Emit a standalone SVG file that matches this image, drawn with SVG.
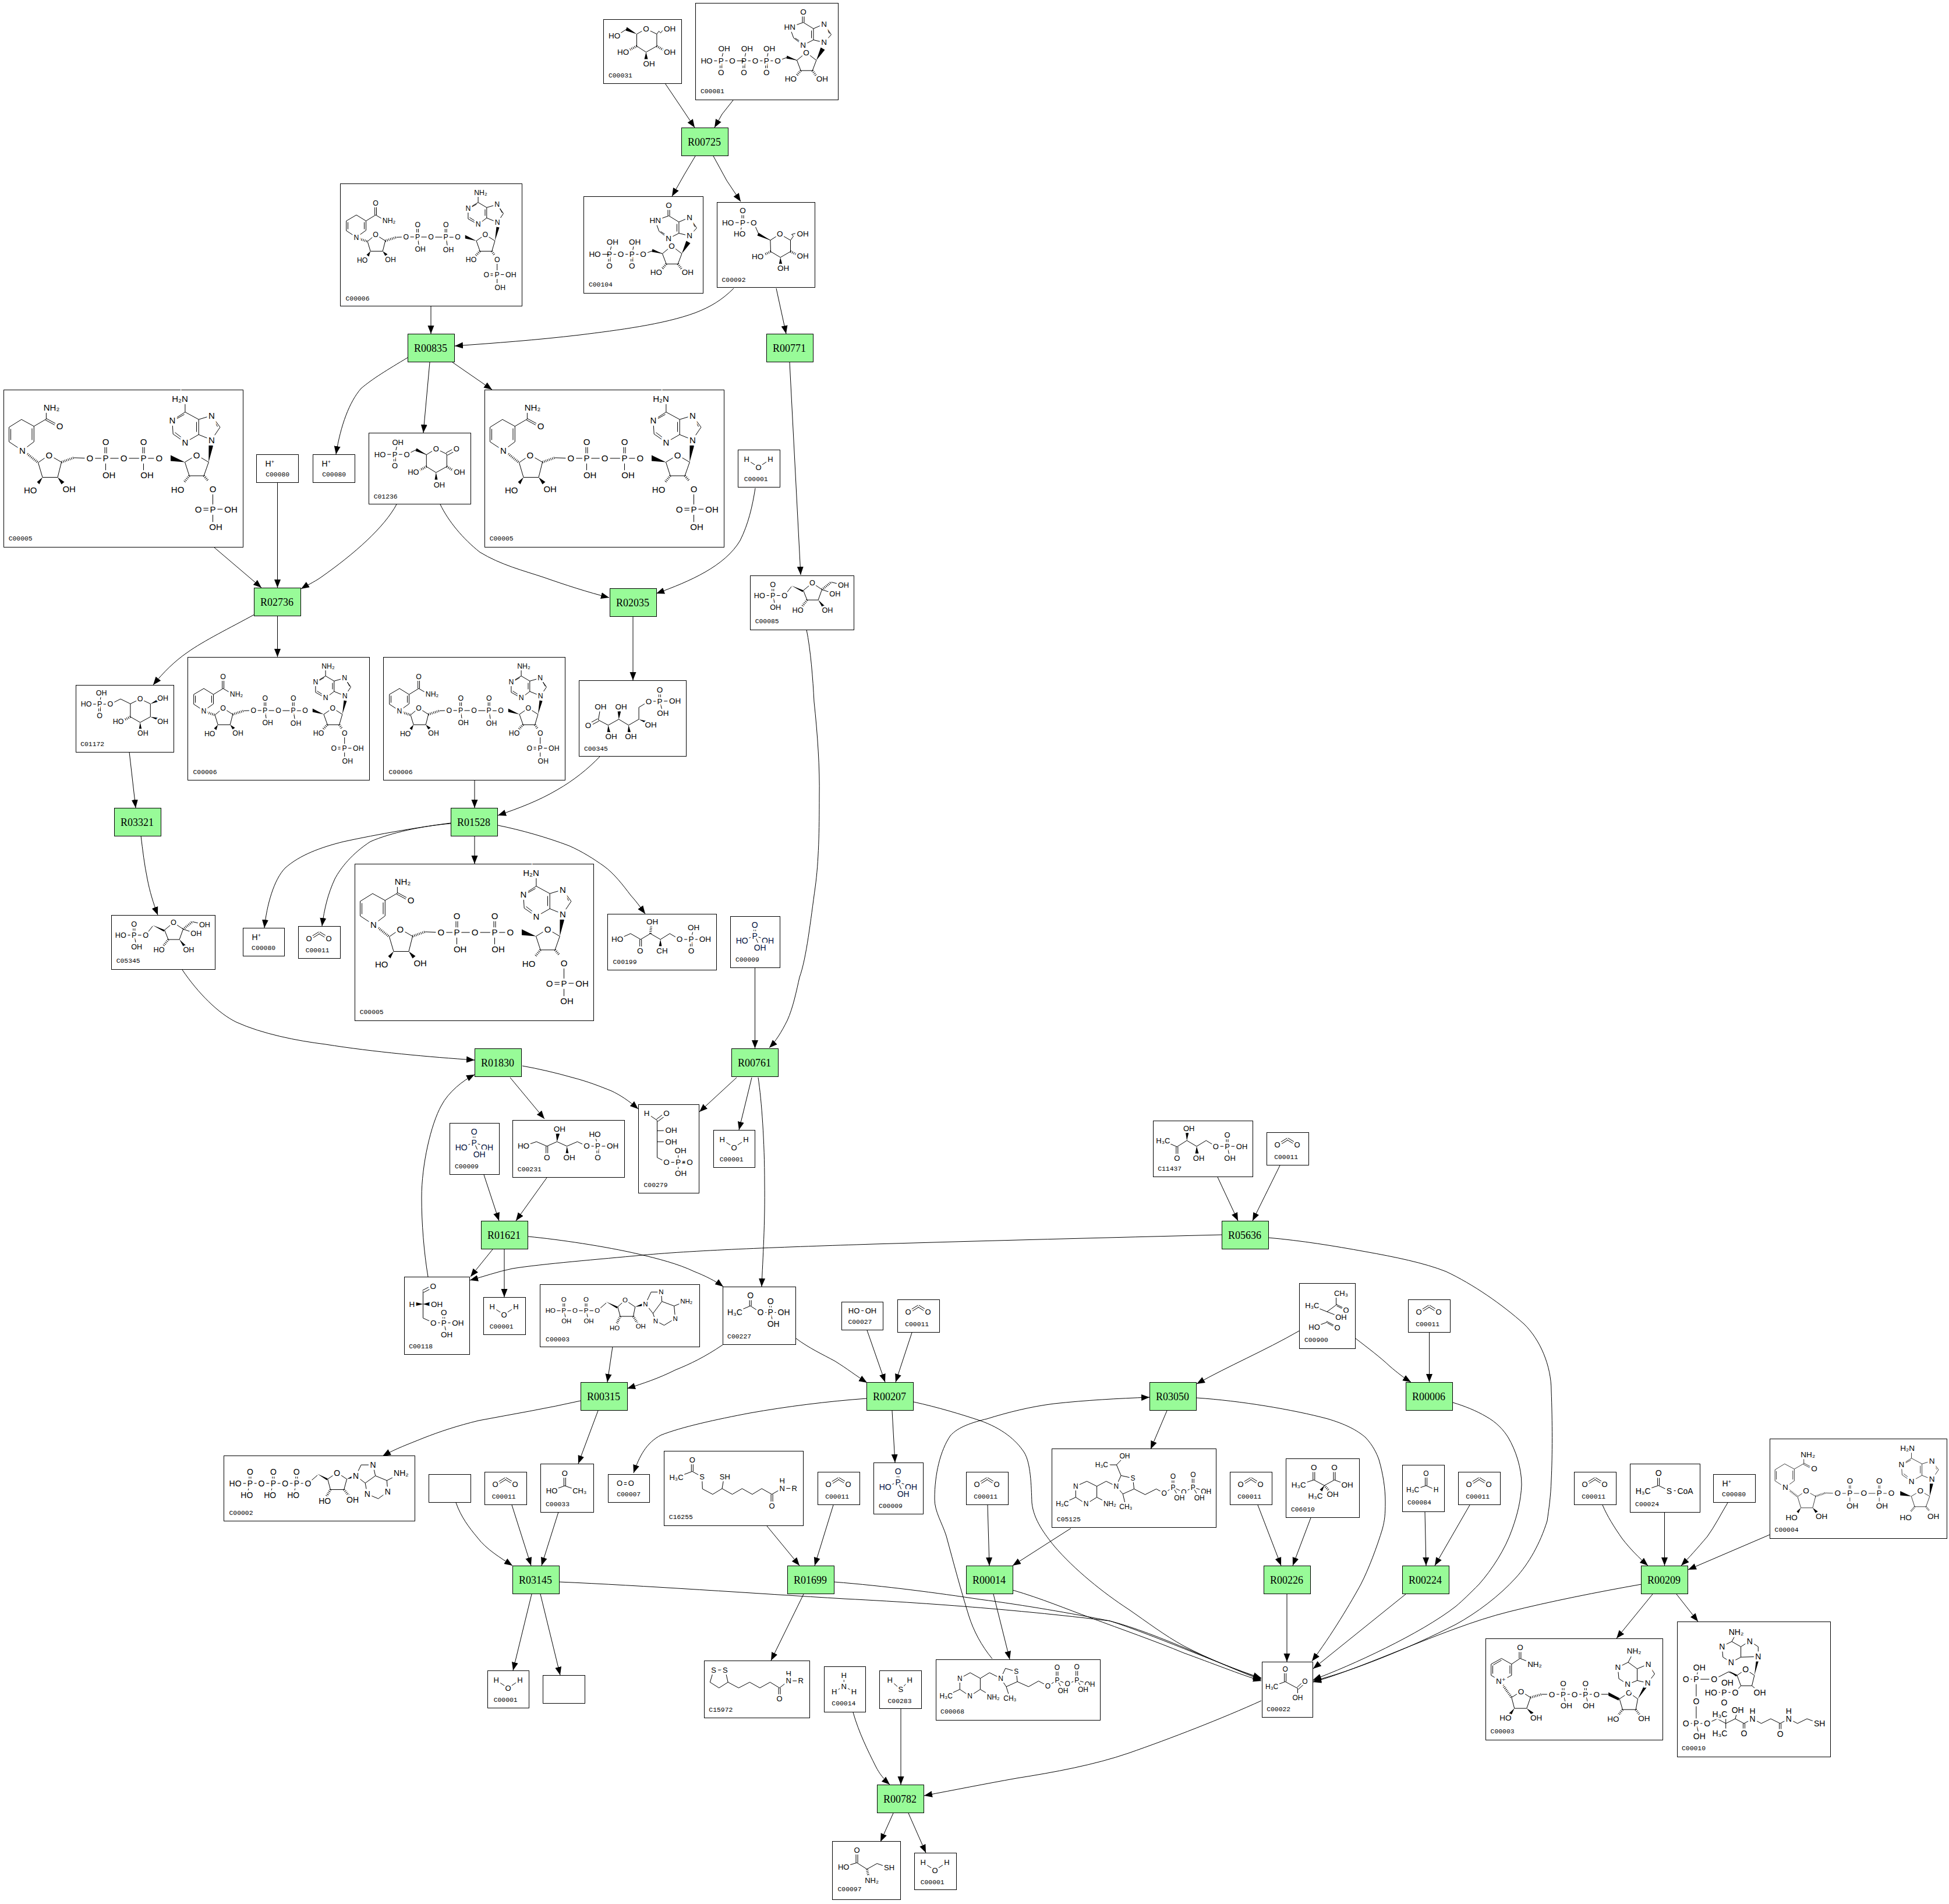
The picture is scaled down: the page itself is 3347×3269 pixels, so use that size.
<svg xmlns="http://www.w3.org/2000/svg" xmlns:xlink="http://www.w3.org/1999/xlink" width="3347" height="3269" viewBox="0 0 3347 3269">
<style>
text{font-family:"Liberation Sans","DejaVu Sans",Arial,sans-serif;fill:#000}
.c{fill:#fff;stroke:#000;stroke-width:1}
.x{fill:#98fb98;stroke:#000;stroke-width:1}
.r{font-family:"Liberation Serif","Times New Roman",serif;font-size:18px;text-anchor:middle}
.l{font-family:"Liberation Mono","Courier New",monospace;font-size:11.4px}
.a{text-anchor:middle;dominant-baseline:central;paint-order:stroke;stroke:#fff;stroke-width:.5em}
.b{fill:none;stroke:#000;stroke-width:1}
.w{fill:#000;stroke:none}
.h{fill:none;stroke:#000;stroke-width:4;stroke-dasharray:1 2}
.e{fill:none;stroke:#000;stroke-width:1;marker-end:url(#ar)}
.pi text{fill:#001040}
</style>
<defs>
<marker id="ar" markerUnits="userSpaceOnUse" markerWidth="16" markerHeight="13" refX="14" refY="6" orient="auto"><path d="M0 0.5L14 6L0 11.5z"/></marker>

<g id="m-co2" font-size="13"><path class="b" d="M18,20 L35,9.5 M19.5,23 L36.5,12.5 M35,12.5 L52,23 M36.5,9.5 L53.5,20"/><text class="a" x="18" y="21.4">O</text><text class="a" x="52" y="21.4">O</text></g>
<g id="m-h2o" font-size="13"><path class="b" d="M14.6,16.4 L35,29.6 L55.5,16"/><text class="a" x="14.6" y="16.4">H</text><text class="a" x="35" y="29.6">O</text><text class="a" x="55.5" y="16">H</text></g>
<g id="m-hp"><text x="15" y="20.4" font-size="14">H<tspan dy="-5" font-size="9">+</tspan></text></g>
<g id="m-pi" class="pi" font-size="14"><path class="b" d="M40.2,14 L40.2,33 M43.2,14 L43.2,33 M41.7,33 L20,41.7 M41.7,33 L64,41 M41.7,33 L50.7,53"/><text class="a" x="41.7" y="14.4">O</text><text class="a" x="41.7" y="33.4">P</text><text class="a" x="19.7" y="41.7">HO</text><text class="a" x="64" y="41">OH</text><text class="a" x="50.7" y="53.4">OH</text></g>

<g id="m-ino" font-size="13.5">
<path class="b" d="M185,14.7 M183.5,14 L183.5,33 M186.5,14 L186.5,33 M185,33 L161.7,41.4 L168.4,59.7 L184.7,72 L202.4,63 L202.4,43.7 L185,33 M199,60 L199,47 M171,60 L182,67 M202.4,43.7 L220.7,35.7 L233,54 L220.7,67.4 L202.4,63 M223,40 L230,52 M190,84.7 L207.4,98 L200.7,115.7 L180.7,115.7 L174,98 Z M174,98 L157.4,93 L141,99 L83,99"/>
<path class="w" d="M207.4,98 L215,76 L222,80 Z M174,98 L157,90 L156,95 Z"/>
<path class="h" d="M180.7,115.7 L172,126 M200.7,115.7 L208,126"/>
<path class="b" d="M120.2,99 L120.2,118 M123.2,99 L123.2,118 M81.5,99 L81.5,118 M84.5,99 L84.5,118 M121.7,99 L126,78 M83,99 L88,78"/>
<text class="a" x="185" y="14.7">O</text><text class="a" x="161.7" y="41.4">HN</text><text class="a" x="184.7" y="72">N</text><text class="a" x="220.7" y="35.7">N</text><text class="a" x="220.7" y="67.4">N</text><text class="a" x="190" y="84.7">O</text><text class="a" x="141" y="99">O</text><text class="a" x="121.7" y="99">P</text><text class="a" x="102.4" y="99">O</text><text class="a" x="83" y="99">P</text><text class="a" x="126.7" y="77.7">OH</text><text class="a" x="88.4" y="77.7">OH</text><text class="a" x="121.7" y="118.7">O</text><text class="a" x="83" y="118.7">O</text><text class="a" x="163.4" y="130.4">HO</text><text class="a" x="217.4" y="130.4">OH</text></g>

<g id="m-g6p" font-size="13.5">
<path class="b" d="M107.7,54.4 L126,65 L126,84.4 L108.7,94.4 L92,84.4 L91.4,65 Z M91.4,65 L71.4,54.4 L62.7,34.7 L18.7,34.7 M42.5,14.4 L42.5,34.7 M45.5,14.4 L45.5,34.7 M44,34.7 L38.7,54.4 M126,65 L131,58 L128,55 L135,53"/>
<path class="w" d="M91.4,65 L71,52 L69,57 Z M108.7,94.4 L106,107 L112,107 Z"/><path class="h" d="M92,84.4 L76,92 M126,84.4 L140,91"/>
<text class="a" x="107.7" y="54.4">O</text><text class="a" x="62.7" y="34.7">O</text><text class="a" x="44" y="34.7">P</text><text class="a" x="18.7" y="34.7">HO</text><text class="a" x="44" y="14.4">O</text><text class="a" x="38.7" y="54.4">HO</text><text class="a" x="147" y="53.7">OH</text><text class="a" x="147" y="91.7">OH</text><text class="a" x="69.7" y="92.7">HO</text><text class="a" x="113.7" y="112.7">OH</text></g>

<g id="m-f6p" font-size="12.7">
<path class="b" d="M15.8,34 L58.6,34 L70.7,18.6 M37.3,15 L37.3,34 M40.3,15 L40.3,34 M38.8,34 L43.2,54 M106.4,12.5 L91,25.3 L97.5,41.6 L116.6,41.6 L123,23.7 Z M123,23.7 L145.3,31.4"/>
<path class="w" d="M70.7,17 L91,25 L90,28 Z M116.6,41.6 L124,55 L128,52 Z"/><path class="h" d="M123,23.7 L139,11 M97.5,41.6 L88,54"/><path class="b" d="M139,11 L160,16"/>
<text class="a" x="15.8" y="34">HO</text><text class="a" x="38.8" y="34">P</text><text class="a" x="38.8" y="15">O</text><text class="a" x="43.2" y="54">OH</text><text class="a" x="58.6" y="34">O</text><text class="a" x="106.4" y="12.5">O</text><text class="a" x="160" y="16">OH</text><text class="a" x="145.3" y="31.4">OH</text><text class="a" x="81.5" y="59.4">HO</text><text class="a" x="132.5" y="59.4">OH</text></g>

<g id="m-nadh">
<path class="b" d="M30.4,50.7 L51.8,62.4 L51.8,89 L31.8,104 L9,89 L9,64 Z M12,67 L12,86 M48.5,66 L48.5,86 M51.8,62.4 L72.9,50 L72.9,36 M72.9,49 L95,61 M71.5,51.5 L93.6,63.5 M77.9,111.7 L59,124.7 L66.5,150 L92.5,150 L99,124 Z M120.4,116.4 L147.9,117.4 L266.8,117.4 M173.5,117 L173.5,89 M176.5,117 L176.5,89 M238.5,117 L238.5,89 M241.5,117 L241.5,89 M175,117 L175,146 M240,117 L240,146 M331,111.7 L311,124 L318.6,147.4 L343.6,147.4 L351.8,124 Z M356.8,85.7 L334.7,76.7 L334.7,50.7 L356.8,44 L371.4,64 Z M334.7,76.7 L311.4,90 L290.7,75.7 L289.3,52.4 L311.4,38 L334.7,50.7 M331,72 L331,55 M294,73 L307,83 M296,50 L310,42 M360,50 L367,63 M311.4,38 L311.4,20"/>
<path class="w" d="M66.5,150 L57,158 L61,162 Z M92.5,150 L99,162 L104,158 Z M286.5,112 L286.5,122 L311,124 Z M352,94 L360,94 L351.8,124 Z"/>
<path class="h" d="M38,108 L59,124.7 M99,124 L120.4,116.4 M318.6,147.4 L310,158"/>
<text class="a" x="31.8" y="104">N</text><text class="a" x="96" y="61.7">O</text><text class="a" x="82" y="30">NH₂</text><text class="a" x="77.9" y="111.7">O</text><text class="a" x="45.7" y="172.4">HO</text><text class="a" x="112.2" y="170">OH</text><text class="a" x="147.9" y="117.4">O</text><text class="a" x="175" y="117.4">P</text><text class="a" x="206" y="117.4">O</text><text class="a" x="240" y="117.4">P</text><text class="a" x="266.8" y="117.4">O</text><text class="a" x="175" y="89.4">O</text><text class="a" x="240" y="89.4">O</text><text class="a" x="180.7" y="145.7">OH</text><text class="a" x="246" y="146">OH</text><text class="a" x="331" y="111.7">O</text><text class="a" x="356.8" y="85.7">N</text><text class="a" x="356.8" y="44">N</text><text class="a" x="289.3" y="52.4">N</text><text class="a" x="311.4" y="90">N</text><text class="a" x="302.5" y="15">H₂N</text><text class="a" x="298.6" y="171.4">HO</text></g>
<g id="m-nadph" font-size="15"><use href="#m-nadh" xlink:href="#m-nadh"/><path class="h" d="M343.6,147.4 L351,156"/><path class="b" d="M359,170 L359,234 M340,203 L352,203 M340,206.5 L352,206.5 M359,204.7 L390,204.7"/><text class="a" x="359" y="170">O</text><text class="a" x="334" y="204.7">O</text><text class="a" x="359" y="204.7">P</text><text class="a" x="390" y="204.7">OH</text><text class="a" x="364" y="234.7">OH</text></g>

<g id="m-nadp" font-size="12.3">
<path class="b" d="M10.2,63.8 L27.5,53.6 L44,63.8 L44,80 L27.5,91.8 L10.2,80.6 Z M13,66 L13,78 M41,66 L41,78 M44,63.8 L60.6,53.6 L75.3,62.3 M59.2,33.7 L59.2,53.6 M62,33.7 L62,53.6 M60.6,87.3 L46.6,99 L51.7,115.8 L72.7,115.8 L77.2,98 Z M96.3,91.8 L112.9,91.3 L201.6,91.8 M131.3,91.3 L131.3,70.4 M134.1,91.3 L134.1,70.4 M179.8,91.3 L179.8,70.4 M182.6,91.3 L182.6,70.4 M132.7,91.3 L135,108 M181.2,91.3 L184,108 M248.8,87.3 L233.5,98 L239.8,115.8 L260.2,115.8 L265.4,98 Z M269.8,66.3 L251.3,58.7 L251.3,40.8 L269.2,35.7 L280,51 Z M251.3,58.7 L236.6,69.9 L219.4,60.2 L219.4,42.4 L236.6,32.1 L251.3,40.8 M248.5,55 L248.5,44 M222,58 L233,65 M222,42 L234,35 M272,39 L278,50 M236.6,32.1 L236.6,20"/>
<path class="w" d="M51.7,115.8 L45,122 L49,125 Z M72.7,115.8 L77,124 L81,121 Z M214.3,88 L214.3,94 L233.5,98 Z M265.4,98 L268,74 L273,75 Z"/>
<path class="h" d="M27.5,93 L46.6,99 M77.2,98 L96.3,91.8 M239.8,115.8 L232,124"/>
<text class="a" x="27.5" y="92.9">N</text><text class="a" x="60.6" y="33.7">O</text><text class="a" x="83.6" y="63.8">NH₂</text><text class="a" x="60.6" y="87.3">O</text><text class="a" x="37.7" y="131">HO</text><text class="a" x="86.1" y="130">OH</text><text class="a" x="112.9" y="91.3">O</text><text class="a" x="132.7" y="91.3">P</text><text class="a" x="155.6" y="91.3">O</text><text class="a" x="181.2" y="91.3">P</text><text class="a" x="201.6" y="91.8">O</text><text class="a" x="132.7" y="70.4">O</text><text class="a" x="181.2" y="70.4">O</text><text class="a" x="137.2" y="112.3">OH</text><text class="a" x="185.6" y="113.3">OH</text><text class="a" x="248.8" y="87.3">O</text><text class="a" x="269.8" y="66.3">N</text><text class="a" x="269.2" y="35.7">N</text><text class="a" x="219.4" y="42.4">N</text><text class="a" x="236.6" y="69.9">N</text><text class="a" x="241" y="15.3">NH₂</text><text class="a" x="224.5" y="130">HO</text>
<path class="h" d="M260.2,115.8 L265,123"/><path class="b" d="M269.2,130 L269.2,178 M269.2,156 L292.8,156 M250.7,154.5 L262,154.5 M250.7,157.5 L262,157.5"/><text class="a" x="269.2" y="130">O</text><text class="a" x="269.2" y="156">P</text><text class="a" x="250.7" y="156">O</text><text class="a" x="292.8" y="156">OH</text><text class="a" x="274.3" y="178">OH</text></g>
</defs>

<g id="connectors">
<path class="e" d="M1142,143 L1169,183 L1193,219"/>
<path class="e" d="M1259,172 L1240,196 L1227,219"/>
<path class="e" d="M1194,268 L1175,300 L1154,337"/>
<path class="e" d="M1225,268 L1248,310 L1272,346"/>
<path class="e" d="M1260,495 C1240,515 1220,527 1194,537 C1140,557 1060,567 996,575 C920,584 850,589 781,594"/>
<path class="e" d="M1333,495 L1350,573"/>
<path class="e" d="M740,525 L740,573"/>
<path class="e" d="M700,614 C665,635 640,650 620,667 C600,690 585,730 577,780"/>
<path class="e" d="M738,622 L727,743"/>
<path class="e" d="M777,622 L845,669"/>
<path class="e" d="M1356,622 L1375,987"/>
<path class="e" d="M368,940 L449,1009"/>
<path class="e" d="M476.5,828 L476.5,1009"/>
<path class="e" d="M681,866 C660,905 610,950 550,992 C540,999 525,1006 517,1011"/>
<path class="e" d="M756,866 C770,895 795,925 824,948 C860,970 900,980 933,991 C970,1004 1010,1017 1046,1026"/>
<path class="e" d="M1297,838 C1292,870 1285,900 1271,928 C1245,972 1185,998 1127,1019"/>
<path class="e" d="M1087,1058 L1087,1168"/>
<path class="e" d="M437,1055 C395,1078 350,1100 322,1120 C300,1135 280,1155 263,1176"/>
<path class="e" d="M476.5,1058 L476.5,1128"/>
<path class="e" d="M222,1291 L233,1387"/>
<path class="e" d="M815,1339 L815,1387"/>
<path class="e" d="M1030,1299 C1010,1320 985,1340 957,1356 C925,1375 890,1388 855,1400"/>
<path class="e" d="M242,1435 C245,1460 248,1485 253,1509 C257,1530 263,1550 271,1571"/>
<path class="e" d="M774,1413 C720,1420 650,1432 590,1445 C550,1455 515,1468 490,1490 C470,1510 458,1555 454,1593"/>
<path class="e" d="M774,1414 C725,1418 670,1430 636,1445 C605,1465 585,1490 575,1509 C563,1535 557,1560 553,1590"/>
<path class="e" d="M815,1435 L815,1483"/>
<path class="e" d="M855,1417 C895,1425 940,1438 977,1452 C1000,1462 1020,1475 1037,1487 C1055,1500 1070,1520 1083,1537 C1093,1548 1100,1558 1108,1569"/>
<path class="e" d="M313,1665 C340,1705 375,1740 406,1755 C450,1775 510,1787 559,1793 C640,1806 740,1815 815,1820"/>
<path class="e" d="M1296.5,1662 L1296.5,1800"/>
<path class="e" d="M1385,1081 C1392,1115 1396,1165 1398,1205 C1404,1260 1408,1320 1407,1368 C1407,1425 1406,1480 1400,1523 C1392,1580 1385,1645 1373,1678 C1368,1700 1362,1730 1352,1752 C1342,1772 1332,1788 1321,1799"/>
<path class="e" d="M897,1830 C925,1835 955,1842 983,1850 C1010,1857 1030,1865 1050,1873 C1065,1880 1080,1890 1096,1904"/>
<path class="e" d="M876,1850 L935,1921"/>
<path class="e" d="M1265,1850 L1201,1909"/>
<path class="e" d="M1291,1850 L1269,1940"/>
<path class="e" d="M1302,1850 C1308,1890 1313,1960 1313,2031 C1314,2100 1310,2160 1308,2209"/>
<path class="e" d="M831,2017 L857,2096"/>
<path class="e" d="M939,2022 L886,2096"/>
<path class="e" d="M735,2192 C728,2150 724,2100 724,2056 C724,2000 740,1930 758,1898 C770,1875 795,1855 815,1845"/>
<path class="e" d="M846,2145 L808,2192"/>
<path class="e" d="M866,2145 L866,2227"/>
<path class="e" d="M907,2123 C960,2128 1040,2140 1096,2153 C1130,2161 1165,2170 1192,2183 C1210,2190 1230,2200 1242,2209"/>
<path class="e" d="M2098,2120 C1900,2125 1700,2130 1500,2136 C1350,2141 1200,2146 1103,2155 C1030,2162 930,2170 880,2178 C855,2183 830,2192 807,2198"/>
<path class="e" d="M2178,2125 C2235,2130 2290,2139 2345,2149 C2395,2158 2445,2168 2483,2183 C2530,2205 2580,2240 2617,2273 C2645,2300 2664,2345 2664,2388 C2666,2440 2666,2500 2664,2541 C2663,2570 2660,2590 2657,2611 C2645,2650 2625,2685 2603,2709 C2575,2740 2535,2770 2500,2789 C2420,2830 2320,2870 2255,2886"/>
<path class="e" d="M2495,2408 C2515,2414 2535,2422 2552,2432 C2570,2442 2582,2455 2590,2468 C2603,2490 2613,2520 2613,2549 C2612,2575 2606,2600 2597,2625 C2585,2660 2562,2695 2540,2720 C2525,2735 2512,2748 2500,2758 C2440,2805 2320,2860 2255,2884"/>
<path class="e" d="M2819,2720 C2745,2733 2660,2750 2592,2767 C2560,2775 2530,2785 2500,2796 C2420,2825 2320,2870 2255,2888"/>
<path class="e" d="M2055,2400 C2130,2405 2220,2420 2280,2436 C2310,2445 2330,2455 2345,2468 C2358,2482 2364,2495 2368,2506 C2375,2530 2379,2555 2379,2579 C2379,2600 2378,2610 2374,2625 C2365,2655 2350,2695 2337,2720 C2322,2748 2285,2810 2253,2852"/>
<path class="e" d="M1569,2407 C1610,2416 1650,2428 1683,2439 C1720,2452 1745,2472 1759,2494 C1770,2512 1771,2550 1772,2580 C1775,2610 1795,2635 1810,2654 C1845,2695 1895,2735 1938,2763 C1970,2785 2000,2808 2033,2826 C2075,2848 2125,2868 2166,2881"/>
<path class="e" d="M960,2716 C1100,2722 1300,2736 1450,2745 C1650,2755 1800,2770 1906,2783 C1990,2805 2100,2860 2166,2884"/>
<path class="e" d="M1432,2716 C1520,2723 1610,2735 1683,2746 C1760,2756 1840,2770 1906,2783 C1975,2805 2090,2855 2166,2882"/>
<path class="e" d="M1739,2730 C1790,2745 1830,2762 1874,2778 C1925,2797 1985,2818 2033,2838 C2080,2855 2130,2875 2166,2886"/>
<path class="e" d="M2166,2920 C2100,2950 2010,2985 1938,3010 C1880,3030 1810,3043 1746,3053 C1690,3063 1640,3073 1587,3083"/>
<path class="e" d="M1704,2848 C1685,2825 1672,2800 1664,2775 C1650,2730 1638,2685 1625,2637 C1618,2615 1605,2595 1605,2574 C1605,2530 1615,2490 1632,2465 C1645,2450 1670,2442 1695,2436 C1730,2425 1770,2415 1810,2410 C1865,2404 1920,2401 1974,2399"/>
<path class="e" d="M997,2405 C940,2418 880,2428 822,2439 C785,2448 755,2458 727,2469 C700,2480 680,2487 657,2500"/>
<path class="e" d="M1489,2401 C1420,2406 1350,2415 1288,2426 C1230,2437 1170,2450 1135,2464 C1110,2477 1098,2500 1088,2529"/>
<path class="e" d="M1241,2309 C1210,2330 1185,2342 1160,2352 C1130,2367 1105,2375 1077,2384"/>
<path class="e" d="M1367,2298 C1390,2315 1412,2325 1434,2337 C1455,2350 1470,2362 1489,2374"/>
<path class="e" d="M1489,2284 L1520,2373"/>
<path class="e" d="M1566,2288 L1538,2373"/>
<path class="e" d="M1052,2312 L1043,2373"/>
<path class="e" d="M1027,2422 L993,2513"/>
<path class="e" d="M1532,2422 L1537,2511"/>
<path class="e" d="M2231,2285 C2170,2320 2110,2345 2055,2376"/>
<path class="e" d="M2328,2298 C2350,2315 2370,2330 2387,2346 C2400,2357 2410,2365 2423,2373"/>
<path class="e" d="M2454.5,2287 L2454.5,2373"/>
<path class="e" d="M2091,2021 L2126,2096"/>
<path class="e" d="M2198,2001 L2151,2096"/>
<path class="e" d="M2004,2422 L1976,2488"/>
<path class="e" d="M1839,2624 L1739,2688"/>
<path class="e" d="M1696,2584 L1699,2688"/>
<path class="e" d="M1706,2737 L1734,2849"/>
<path class="e" d="M1317,2620 L1373,2688"/>
<path class="e" d="M1431,2584 L1399,2688"/>
<path class="e" d="M1380,2737 L1324,2851"/>
<path class="e" d="M783,2580 C792,2605 805,2622 820,2640 C835,2660 860,2675 880,2688"/>
<path class="e" d="M879,2584 L912,2688"/>
<path class="e" d="M959,2596 L930,2688"/>
<path class="e" d="M913,2737 L881,2868"/>
<path class="e" d="M928,2737 L962,2876"/>
<path class="e" d="M1465,2940 C1475,2975 1490,3005 1504,3033 C1510,3045 1518,3055 1528,3064"/>
<path class="e" d="M1547,2934 L1547,3064"/>
<path class="e" d="M1534,3113 L1512,3162"/>
<path class="e" d="M1560,3113 L1590,3181"/>
<path class="e" d="M2160,2584 L2200,2688"/>
<path class="e" d="M2251,2606 L2220,2688"/>
<path class="e" d="M2210,2737 L2210,2853"/>
<path class="e" d="M2447,2596 L2449,2688"/>
<path class="e" d="M2524,2584 L2464,2688"/>
<path class="e" d="M2414,2737 L2255,2865"/>
<path class="e" d="M2752,2584 C2760,2603 2772,2622 2786,2642 C2800,2660 2815,2675 2830,2688"/>
<path class="e" d="M2858.5,2596 L2858.5,2688"/>
<path class="e" d="M2967,2580 C2955,2600 2945,2620 2932,2638 C2915,2658 2900,2675 2887,2688"/>
<path class="e" d="M3039,2635 L2899,2695"/>
<path class="e" d="M2838,2737 L2776,2813"/>
<path class="e" d="M2879,2737 L2916,2784"/>
</g>

<g id="R00725" transform="translate(1170.5,219.5)"><rect class="x" width="80" height="48"/><text class="r" x="39" y="30">R00725</text></g>
<g id="R00835" transform="translate(700.5,573.5)"><rect class="x" width="80" height="48"/><text class="r" x="39" y="30">R00835</text></g>
<g id="R00771" transform="translate(1316.5,573.5)"><rect class="x" width="80" height="48"/><text class="r" x="39" y="30">R00771</text></g>
<g id="R02736" transform="translate(436.5,1009.5)"><rect class="x" width="80" height="48"/><text class="r" x="39" y="30">R02736</text></g>
<g id="R02035" transform="translate(1047.5,1010.5)"><rect class="x" width="80" height="48"/><text class="r" x="39" y="30">R02035</text></g>
<g id="R03321" transform="translate(196.5,1387.5)"><rect class="x" width="80" height="48"/><text class="r" x="39" y="30">R03321</text></g>
<g id="R01528" transform="translate(774.5,1387.5)"><rect class="x" width="80" height="48"/><text class="r" x="39" y="30">R01528</text></g>
<g id="R01830" transform="translate(815.5,1800.5)"><rect class="x" width="80" height="48"/><text class="r" x="39" y="30">R01830</text></g>
<g id="R00761" transform="translate(1256.5,1800.5)"><rect class="x" width="80" height="48"/><text class="r" x="39" y="30">R00761</text></g>
<g id="R01621" transform="translate(826.5,2096.5)"><rect class="x" width="80" height="48"/><text class="r" x="39" y="30">R01621</text></g>
<g id="R05636" transform="translate(2098.5,2096.5)"><rect class="x" width="80" height="48"/><text class="r" x="39" y="30">R05636</text></g>
<g id="R00315" transform="translate(997.5,2373.5)"><rect class="x" width="80" height="48"/><text class="r" x="39" y="30">R00315</text></g>
<g id="R00207" transform="translate(1488.5,2373.5)"><rect class="x" width="80" height="48"/><text class="r" x="39" y="30">R00207</text></g>
<g id="R03050" transform="translate(1974.5,2373.5)"><rect class="x" width="80" height="48"/><text class="r" x="39" y="30">R03050</text></g>
<g id="R00006" transform="translate(2414.5,2373.5)"><rect class="x" width="80" height="48"/><text class="r" x="39" y="30">R00006</text></g>
<g id="R03145" transform="translate(880.5,2688.5)"><rect class="x" width="80" height="48"/><text class="r" x="39" y="30">R03145</text></g>
<g id="R01699" transform="translate(1352.5,2688.5)"><rect class="x" width="80" height="48"/><text class="r" x="39" y="30">R01699</text></g>
<g id="R00014" transform="translate(1659.5,2688.5)"><rect class="x" width="80" height="48"/><text class="r" x="39" y="30">R00014</text></g>
<g id="R00226" transform="translate(2170.5,2688.5)"><rect class="x" width="80" height="48"/><text class="r" x="39" y="30">R00226</text></g>
<g id="R00224" transform="translate(2408.5,2688.5)"><rect class="x" width="80" height="48"/><text class="r" x="39" y="30">R00224</text></g>
<g id="R00209" transform="translate(2818.5,2688.5)"><rect class="x" width="80" height="48"/><text class="r" x="39" y="30">R00209</text></g>
<g id="R00782" transform="translate(1506.5,3064.5)"><rect class="x" width="80" height="48"/><text class="r" x="39" y="30">R00782</text></g>

<g id="C00031" transform="translate(1036.5,33.5)"><rect class="c" width="134" height="110"/><g font-size="13.5"><path class="b" d="M73,16 L91.4,25 L91.4,45.7 L73,56 L57,45.7 L57,25 Z M91.4,25 L95,20 L98,23 L103,17"/><path class="w" d="M57,25 L40,13 L38,19 Z M73,56 L70,68 L76,68 Z"/><path class="h" d="M57,45.7 L43,53 M91.4,45.7 L104,53"/><path class="b" d="M40.4,16 L25,26"/><text class="a" x="73" y="16">O</text><text class="a" x="18.7" y="28.4">HO</text><text class="a" x="113.7" y="16">OH</text><text class="a" x="113.7" y="55.7">OH</text><text class="a" x="33.7" y="55.7">HO</text><text class="a" x="78" y="75.7">OH</text></g><text class="l" x="8.4" y="99.4">C00031</text></g>
<g id="C00081" transform="translate(1194.5,5.5)"><rect class="c" width="245" height="166"/><use href="#m-ino" xlink:href="#m-ino"/><g font-size="13.5"><path class="b" d="M19,99 L83,99 M42.2,99 L42.2,118 M45.2,99 L45.2,118 M43.7,99 L49,78"/><text class="a" x="19" y="99">HO</text><text class="a" x="43.7" y="99">P</text><text class="a" x="63" y="99">O</text><text class="a" x="49" y="77.7">OH</text><text class="a" x="43.7" y="118.7">O</text></g><text class="l" x="8.4" y="154.7">C00081</text></g>
<g id="C00104" transform="translate(1002.5,337.5)"><rect class="c" width="205" height="166"/><use href="#m-ino" xlink:href="#m-ino" x="-39"/><g font-size="13.5"><path class="b" d="M19,99 L43,99"/><text class="a" x="19" y="99">HO</text></g><text class="l" x="8.4" y="154.7">C00104</text></g>
<g id="C00092" transform="translate(1231.5,347.5)"><rect class="c" width="168" height="146"/><use href="#m-g6p" xlink:href="#m-g6p"/><text class="l" x="8" y="136.7">C00092</text></g>
<g id="C00006" transform="translate(584.5,315.5)"><rect class="c" width="312" height="210"/><use href="#m-nadp" xlink:href="#m-nadp"/><text class="l" x="9" y="200">C00006</text></g>
<g id="C01236" transform="translate(633.5,743.5)"><rect class="c" width="175" height="122"/><g font-size="13"><path class="b" d="M115.3,27 L133.8,36.2 L133.8,57.6 L115.3,67.8 L98.8,57.6 L98.8,37.2 Z M132.5,34 L149,25 M135,38 L151.5,29 M98.8,37.2 L81.5,28.5 L65,36.7 L19,36.7 M43,36.7 L43,55.6 M46,36.7 L46,55.6 M44.6,36.7 L49.7,15.8"/><path class="w" d="M98.8,37.2 L82,26 L80,31 Z M115.3,67.8 L113,80 L118,80 Z"/><path class="h" d="M98.8,57.6 L85,65 M133.8,57.6 L146,65"/><text class="a" x="115.3" y="27">O</text><text class="a" x="150.4" y="27">O</text><text class="a" x="65" y="36.7">O</text><text class="a" x="44.6" y="36.7">P</text><text class="a" x="19" y="36.7">HO</text><text class="a" x="49.7" y="15.8">OH</text><text class="a" x="44.6" y="55.6">O</text><text class="a" x="76.4" y="66.8">HO</text><text class="a" x="155.5" y="66.8">OH</text><text class="a" x="121" y="88.8">OH</text></g><text class="l" x="8.2" y="112.7">C01236</text></g>
<g id="C00080" transform="translate(440.5,780.5)"><rect class="c" width="72" height="48"/><use href="#m-hp" xlink:href="#m-hp"/><text class="l" x="15.7" y="37.4">C00080</text></g>
<g id="C00080-b" transform="translate(537.5,780.5)"><rect class="c" width="72" height="48"/><use href="#m-hp" xlink:href="#m-hp"/><text class="l" x="15.7" y="37.4">C00080</text></g>
<g id="C00005" transform="translate(6.5,669.5)"><rect class="c" width="411" height="270"/><use href="#m-nadph" xlink:href="#m-nadph"/><text class="l" x="8.2" y="258">C00005</text></g>
<g id="C00005-b" transform="translate(832.5,669.5)"><rect class="c" width="411" height="270"/><use href="#m-nadph" xlink:href="#m-nadph"/><text class="l" x="8.2" y="258">C00005</text></g>
<g id="C00005-c" transform="translate(609.5,1483.5)"><rect class="c" width="410" height="269"/><use href="#m-nadph" xlink:href="#m-nadph"/><text class="l" x="8.2" y="257">C00005</text></g>
<g id="C00001" transform="translate(1267.5,772.5)"><rect class="c" width="72" height="64"/><use href="#m-h2o" xlink:href="#m-h2o"/><text class="l" x="10.2" y="53">C00001</text></g>
<g id="C00085" transform="translate(1288.5,988.5)"><rect class="c" width="178" height="93"/><use href="#m-f6p" xlink:href="#m-f6p"/><text class="l" x="8.2" y="81.4">C00085</text></g>
<g id="C01172" transform="translate(130.5,1176.5)"><rect class="c" width="168" height="115"/><g font-size="12.5"><path class="b" d="M110.2,23.6 L127.8,31.9 L127.8,54.2 L110.2,63.8 L93.4,54.2 L93.4,31.9 Z M93.4,31.9 L76.5,23.6 L58.9,32.5 L17.6,32.5 M39.2,32.5 L39.2,52.9 M42,32.5 L42,52.9 M40.6,32.5 L43.6,13.4"/><path class="w" d="M127.8,31.9 L140,24 L142,28 Z M127.8,54.2 L140,60 L142,56 Z M110.2,63.8 L108,76 L113,76 Z"/><path class="h" d="M93.4,54.2 L82,60"/><text class="a" x="110.2" y="23.6">O</text><text class="a" x="58.9" y="32.5">O</text><text class="a" x="40.6" y="32.5">P</text><text class="a" x="17.6" y="32.5">HO</text><text class="a" x="43.6" y="13.4">OH</text><text class="a" x="40.6" y="52.9">O</text><text class="a" x="149.2" y="22.9">OH</text><text class="a" x="149.2" y="62.5">OH</text><text class="a" x="72.7" y="62.5">HO</text><text class="a" x="114.8" y="82.3">OH</text></g><text class="l" x="7.7" y="104.6">C01172</text></g>
<g id="C00006-b" transform="translate(322.5,1128.5)"><rect class="c" width="312" height="211"/><use href="#m-nadp" xlink:href="#m-nadp"/><text class="l" x="9" y="200">C00006</text></g>
<g id="C00006-c" transform="translate(658.5,1128.5)"><rect class="c" width="312" height="211"/><use href="#m-nadp" xlink:href="#m-nadp"/><text class="l" x="9" y="200">C00006</text></g>
<g id="C00345" transform="translate(994.5,1168.5)"><rect class="c" width="184" height="130"/><g font-size="13.5"><path class="b" d="M33,67.6 L50,76.6 L68.2,66.4 L85,76.6 L102.6,66.4 L102.6,46 L119.4,35.7 L164.6,35 M137,16 L137,35.7 M140,16 L140,35.7 M138.5,35.7 L143.9,55.5 M32,65.5 L14,75.5 M34,69.5 L16,79 M33,67.6 L36.8,45.3"/><path class="w" d="M50,76.6 L48,90 L54,90 Z M68.2,66.4 L66,52 L72,52 Z M85,76.6 L83,90 L89,90 Z M102.6,66.4 L116,74 L118,70 Z"/><text class="a" x="138.5" y="35.7">P</text><text class="a" x="138.5" y="16">O</text><text class="a" x="164.6" y="35">OH</text><text class="a" x="143.9" y="55.5">OH</text><text class="a" x="119.4" y="35.7">O</text><text class="a" x="15.4" y="76.6">O</text><text class="a" x="36.8" y="45.3">OH</text><text class="a" x="72" y="45.3">OH</text><text class="a" x="55.1" y="96.3">OH</text><text class="a" x="88.8" y="96.3">OH</text><text class="a" x="123.2" y="75.9">OH</text></g><text class="l" x="8.4" y="120.6">C00345</text></g>
<g id="C05345" transform="translate(191.5,1571.5)"><rect class="c" width="178" height="93"/><use href="#m-f6p" xlink:href="#m-f6p"/><text class="l" x="8.2" y="81.4">C05345</text></g>
<g id="C00080-c" transform="translate(417.5,1593.5)"><rect class="c" width="71" height="48"/><use href="#m-hp" xlink:href="#m-hp"/><text class="l" x="14.6" y="37.4">C00080</text></g>
<g id="C00011" transform="translate(512.5,1590.5)"><rect class="c" width="72" height="55"/><use href="#m-co2" xlink:href="#m-co2"/><text class="l" x="12.2" y="44.8">C00011</text></g>
<g id="C00199" transform="translate(1043.5,1569.5)"><rect class="c" width="187" height="96"/><g font-size="13.5"><path class="b" d="M16.7,43.4 L39.4,33.4 L56.7,43.4 L73.4,33.4 L90.7,43.4 L106.7,33.4 L123.4,43.4 L167.4,43.4 M55.2,43.4 L55.2,63 M58.2,43.4 L58.2,63 M141.9,43.4 L141.9,63 M144.9,43.4 L144.9,63 M143.4,43.4 L147.7,23"/><path class="w" d="M90.7,43.4 L88,55 L93,55 Z"/><path class="h" d="M73.4,33.4 L75,18"/><text class="a" x="16.7" y="43.4">HO</text><text class="a" x="55.7" y="63">O</text><text class="a" x="76.7" y="13.4">OH</text><text class="a" x="93.4" y="63">CH</text><text class="a" x="123.4" y="43.4">O</text><text class="a" x="143.4" y="43.4">P</text><text class="a" x="147.7" y="23">OH</text><text class="a" x="167.4" y="43.4">OH</text><text class="a" x="143.4" y="63">O</text></g><text class="l" x="9" y="85.7">C00199</text></g>
<g id="C00009" transform="translate(1254.5,1573.5)"><rect class="c" width="85" height="88"/><use href="#m-pi" xlink:href="#m-pi"/><text class="l" x="8.4" y="77.4">C00009</text></g>
<g id="C00009-b" transform="translate(772.5,1928.5)"><rect class="c" width="85" height="88"/><use href="#m-pi" xlink:href="#m-pi"/><text class="l" x="8.4" y="77.4">C00009</text></g>
<g id="C00009-c" transform="translate(1500.5,2511.5)"><rect class="c" width="85" height="88"/><use href="#m-pi" xlink:href="#m-pi"/><text class="l" x="8.4" y="77.4">C00009</text></g>
<g id="C00231" transform="translate(880.5,1923.5)"><rect class="c" width="192" height="98"/><g font-size="13.5"><path class="b" d="M18.5,44.4 L40.8,36.7 L58.7,44.4 L76,36.7 L93.1,44.4 L111,36.7 L127,44.4 L171.6,44.4 M57.2,44.4 L57.2,64.3 M60.2,44.4 L60.2,64.3 M144.5,44.4 L144.5,64.3 M147.5,44.4 L147.5,64.3 M146,44.4 L141,24"/><path class="w" d="M76,36.7 L74,22 L81,22 Z M93.1,44.4 L91,57 L96,57 Z"/><text class="a" x="18.5" y="44.4">HO</text><text class="a" x="58.7" y="64.3">O</text><text class="a" x="80.4" y="14.8">OH</text><text class="a" x="97" y="64.3">OH</text><text class="a" x="127" y="44.4">O</text><text class="a" x="146" y="44.4">P</text><text class="a" x="141" y="24">HO</text><text class="a" x="171.6" y="44.4">OH</text><text class="a" x="146" y="64.3">O</text></g><text class="l" x="8.3" y="87.5">C00231</text></g>
<g id="C00279" transform="translate(1096.5,1896.5)"><rect class="c" width="104" height="152"/><g font-size="13.5"><path class="b" d="M14,14.8 L32,27 M31,25 L47,13 M33,29 L49,17 M32,27 L32,90.8 L47.9,99 L88,99 M32,45 L56,44 M32,63.8 L56,63.8 M68.3,78.6 L68.3,118 M82,97.5 L70,97.5 M82,100.5 L70,100.5"/><text class="a" x="14" y="14.8">H</text><text class="a" x="47.9" y="14.8">O</text><text class="a" x="56.2" y="44">OH</text><text class="a" x="56.2" y="63.8">OH</text><text class="a" x="47.9" y="99">O</text><text class="a" x="68.3" y="99">P</text><text class="a" x="72" y="78.6">OH</text><text class="a" x="88" y="99">O</text><text class="a" x="72.7" y="118">OH</text></g><text class="l" x="9" y="141.9">C00279</text></g>
<g id="C00001-b" transform="translate(1225.5,1940.5)"><rect class="c" width="71" height="64"/><use href="#m-h2o" xlink:href="#m-h2o"/><text class="l" x="10.2" y="53">C00001</text></g>
<g id="C00118" transform="translate(694.5,2192.5)"><rect class="c" width="112" height="133"/><g font-size="13.5"><path class="b" d="M32,24.5 L32,70.5 L49.8,78.6 L91.9,78.6 M31,23 L48,14 M33,26.5 L50,17.5 M66.2,60.8 L66.2,78.6 M69.2,60.8 L69.2,78.6 M67.7,78.6 L72.7,98.5"/><path class="w" d="M32,46.5 L18,43 L18,50 Z M32,46.5 L44,43 L44,50 Z"/><text class="a" x="49.2" y="15.9">O</text><text class="a" x="12.8" y="46.5">H</text><text class="a" x="55.5" y="46.5">OH</text><text class="a" x="49.8" y="78.6">O</text><text class="a" x="67.7" y="78.6">P</text><text class="a" x="67.7" y="60.8">O</text><text class="a" x="91.9" y="78.6">OH</text><text class="a" x="72.7" y="98.5">OH</text></g><text class="l" x="7.7" y="122.5">C00118</text></g>
<g id="C00001-c" transform="translate(830.5,2227.5)"><rect class="c" width="72" height="64"/><use href="#m-h2o" xlink:href="#m-h2o"/><text class="l" x="10.2" y="53">C00001</text></g>
<g id="C00003" transform="translate(927.5,2205.5)"><rect class="c" width="274" height="107"/><g font-size="11.5"><path class="b" d="M17.8,44.9 L98.2,44.9 L113.5,31.6 M39.5,44.9 L39.5,25.5 M42.2,44.9 L42.2,25.5 M77.6,44.9 L77.6,25.5 M80.4,44.9 L80.4,25.5 M40.8,44.9 L45.3,62.8 M79,44.9 L83.5,62.8 M146,26.6 L133.3,38.3 L137.7,54.6 L160,54.6 L163.2,38.3 Z M181,33.2 L190.7,12.8 L207.9,12.8 L209.2,29 L193.9,49.5 L181,33.2 M193.9,49.5 L198.3,62.2 L213,69.9 L232.1,58.2 L230.2,36.8 L209.2,29 M230.2,36.8 L251.3,28"/><path class="w" d="M113.5,29.6 L133.3,38 L132,41 Z M163.2,38.3 L181,30 L181,36 Z"/><path class="h" d="M137.7,54.6 L131,68 M160,54.6 L167,66"/><text class="a" x="17.8" y="44.9">HO</text><text class="a" x="40.8" y="44.9">P</text><text class="a" x="40.8" y="25.5">O</text><text class="a" x="45.3" y="62.8">OH</text><text class="a" x="60" y="44.9">O</text><text class="a" x="79" y="44.9">P</text><text class="a" x="79" y="25.5">O</text><text class="a" x="83.5" y="62.8">OH</text><text class="a" x="98.2" y="44.9">O</text><text class="a" x="146" y="26.6">O</text><text class="a" x="128.2" y="74">HO</text><text class="a" x="172.8" y="71.4">OH</text><text class="a" x="181" y="33.2">N</text><text class="a" x="207.9" y="12.8">N</text><text class="a" x="198.3" y="62.2">N</text><text class="a" x="232.1" y="58.2">N</text><text class="a" x="251.3" y="28">NH₂</text></g><text class="l" x="9.6" y="97">C00003</text></g>
<g id="C00227" transform="translate(1241.5,2209.5)"><rect class="c" width="125" height="99"/><g font-size="14"><path class="b" d="M20.4,43.9 L47.2,32.6 L64.4,43.9 L104.6,43.9 M45.7,32.6 L45.7,14.8 M48.7,32.6 L48.7,14.8 M80.1,43.9 L80.1,24 M83.1,43.9 L83.1,24 M81.6,43.9 L86.7,63.8"/><text class="a" x="20.4" y="43.9">H₃C</text><text class="a" x="47.2" y="14.8">O</text><text class="a" x="64.4" y="43.9">O</text><text class="a" x="81.6" y="43.9">P</text><text class="a" x="81.6" y="24">O</text><text class="a" x="104.6" y="43.9">OH</text><text class="a" x="86.7" y="63.8">OH</text></g><text class="l" x="7.6" y="88.8">C00227</text></g>
<g id="C00027" transform="translate(1445.5,2235.5)"><rect class="c" width="71" height="48"/><g font-size="13"><path class="b" d="M28,14.8 L44,14.8"/><text class="a" x="21" y="14.8">HO</text><text class="a" x="50" y="14.8">OH</text></g><text class="l" x="10.9" y="37.3">C00027</text></g>
<g id="C00011-b" transform="translate(1541.5,2231.5)"><rect class="c" width="72" height="56"/><use href="#m-co2" xlink:href="#m-co2"/><text class="l" x="12.7" y="45.5">C00011</text></g>
<g id="C11437" transform="translate(1980.5,1924.5)"><rect class="c" width="171" height="96"/><g font-size="13"><path class="b" d="M16.9,34.1 L40.8,44.4 L57.7,33.7 L74.5,43.7 L90.8,33.7 L107.2,43.7 L152.1,43.7 M39.3,44.4 L39.3,63.6 M42.3,44.4 L42.3,63.6 M125.5,43.7 L125.5,23.8 M128.5,43.7 L128.5,23.8 M127,43.7 L131.6,63.6"/><path class="w" d="M57.7,33.7 L55.5,20 L61,20 Z M74.5,43.7 L72,56 L78,56 Z"/><text class="a" x="16.9" y="34.1">H₃C</text><text class="a" x="40.8" y="63.6">O</text><text class="a" x="61.2" y="13.4">OH</text><text class="a" x="78.1" y="63.6">OH</text><text class="a" x="107.2" y="43.7">O</text><text class="a" x="127" y="43.7">P</text><text class="a" x="127" y="23.8">O</text><text class="a" x="152.1" y="43.7">OH</text><text class="a" x="131.6" y="63.6">OH</text></g><text class="l" x="7.7" y="85.4">C11437</text></g>
<g id="C00011-c" transform="translate(2175.5,1944.5)"><rect class="c" width="72" height="56"/><use href="#m-co2" xlink:href="#m-co2"/><text class="l" x="12.7" y="45.5">C00011</text></g>
<g id="C00900" transform="translate(2231.5,2203.5)"><rect class="c" width="96" height="112"/><g font-size="13"><path class="b" d="M63.1,16 L63.1,37.1 L47.4,48.6 L21.8,38.3 M47.4,48.6 L71.5,58.2 M62.5,35.5 L79,44 M64,38.5 L80.5,47 M25,75 L47.4,66.6 M46.5,65 L64,74.5 M48,68 L65.5,77.5"/><text class="a" x="71.5" y="16.9">CH₃</text><text class="a" x="80" y="45.6">O</text><text class="a" x="21.8" y="38.3">H₃C</text><text class="a" x="71.5" y="58.2">OH</text><text class="a" x="25.6" y="75.4">HO</text><text class="a" x="65" y="76.2">O</text></g><text class="l" x="8.4" y="100.3">C00900</text></g>
<g id="C00011-d" transform="translate(2418.5,2231.5)"><rect class="c" width="72" height="56"/><use href="#m-co2" xlink:href="#m-co2"/><text class="l" x="12.7" y="45.5">C00011</text></g>
<g id="C00002" transform="translate(384.5,2499.5)"><rect class="c" width="328" height="112"/><g font-size="14"><path class="b" d="M19.6,47.3 L144.5,47.3 L160.6,33.4 M43.4,47.3 L43.4,27.2 M46.4,47.3 L46.4,27.2 M83.4,47.3 L83.4,27.2 M86.4,47.3 L86.4,27.2 M123.3,47.3 L123.3,27.2 M126.3,47.3 L126.3,27.2 M44.9,47.3 L39.3,67.4 M84.9,47.3 L79.2,67.4 M124.8,47.3 L119.2,67.4 M194.3,29 L178.2,40 L183,58 L206.2,58 L211.1,40 Z M226.6,34.3 L235.7,15.6 L256,15.6 L260.2,34.3 L242.7,46.8 L226.6,34.3 M242.7,46.8 L246.2,65.6 L265.1,73.6 L281.3,61.6 L279.9,42.4 L260.2,34.3 M279.9,42.4 L304.4,29.9"/><path class="w" d="M160.6,31 L178.2,39 L177,42 Z M211.1,40 L226.6,31 L226.6,37 Z"/><path class="h" d="M183,58 L176,70 M206.2,58 L216,70"/><text class="a" x="19.6" y="47.3">HO</text><text class="a" x="44.9" y="47.3">P</text><text class="a" x="44.9" y="27.2">O</text><text class="a" x="39.3" y="67.4">HO</text><text class="a" x="64.5" y="47.3">O</text><text class="a" x="84.9" y="47.3">P</text><text class="a" x="84.9" y="27.2">O</text><text class="a" x="79.2" y="67.4">HO</text><text class="a" x="105.2" y="47.3">O</text><text class="a" x="124.8" y="47.3">P</text><text class="a" x="124.8" y="27.2">O</text><text class="a" x="119.2" y="67.4">HO</text><text class="a" x="144.5" y="47.3">O</text><text class="a" x="194.3" y="29">O</text><text class="a" x="173.2" y="77.2">HO</text><text class="a" x="221" y="75.8">OH</text><text class="a" x="226.6" y="34.3">N</text><text class="a" x="256" y="15.6">N</text><text class="a" x="246.2" y="65.6">N</text><text class="a" x="281.3" y="61.6">N</text><text class="a" x="304.4" y="29.9">NH₂</text></g><text class="l" x="9" y="101.3">C00002</text></g>
<g id="blank-1" transform="translate(736.5,2531.5)"><rect class="c" width="72" height="48"/></g>
<g id="C00011-e" transform="translate(832.5,2527.5)"><rect class="c" width="72" height="56"/><use href="#m-co2" xlink:href="#m-co2"/><text class="l" x="12.2" y="45.5">C00011</text></g>
<g id="C00033" transform="translate(928.5,2513.5)"><rect class="c" width="91" height="83"/><g font-size="13"><path class="b" d="M39.9,16 L39.9,37.5 M42.9,16 L42.9,37.5 M19,45.5 L41.4,37.5 L66.7,46.4"/><text class="a" x="41.4" y="16">O</text><text class="a" x="19" y="45.5">HO</text><text class="a" x="66.7" y="46.4">CH₃</text></g><text class="l" x="8.5" y="72.3">C00033</text></g>
<g id="C00007" transform="translate(1044.5,2531.5)"><rect class="c" width="71" height="48"/><g font-size="13"><path class="b" d="M24,14 L35,14 M24,17 L35,17"/><text class="a" x="19.6" y="15.4">O</text><text class="a" x="39.2" y="15.4">O</text></g><text class="l" x="14.7" y="37.7">C00007</text></g>
<g id="C16255" transform="translate(1140.5,2491.5)"><rect class="c" width="239" height="128"/><g font-size="13"><path class="b" d="M21,45.1 L48.3,34.8 L65.1,44.2 L65.8,64.8 L83.4,74.1 L99.5,64.3 L117,74.1 L133.9,64.3 L151.4,74.1 L167.6,64.3 L185.1,74.1 L202.6,63.9 L223.7,63.9 M46.8,34.8 L46.8,14.8 M49.8,34.8 L49.8,14.8 M99.5,64.3 L103,44 M183.6,74.1 L183.6,93.8 M186.6,74.1 L186.6,93.8 M202.6,63.9 L202.6,51.4"/><text class="a" x="21" y="45.1">H₃C</text><text class="a" x="48.3" y="14.8">O</text><text class="a" x="65.1" y="44.2">S</text><text class="a" x="104.4" y="43.8">SH</text><text class="a" x="185.1" y="93.8">O</text><text class="a" x="202.6" y="51.4">H</text><text class="a" x="202.6" y="63.9">N</text><text class="a" x="223.7" y="63.9">R</text></g><text class="l" x="8.3" y="116.5">C16255</text></g>
<g id="C00011-f" transform="translate(1404.5,2527.5)"><rect class="c" width="72" height="56"/><use href="#m-co2" xlink:href="#m-co2"/><text class="l" x="12.7" y="45.5">C00011</text></g>
<g id="C00011-g" transform="translate(1659.5,2527.5)"><rect class="c" width="72" height="56"/><use href="#m-co2" xlink:href="#m-co2"/><text class="l" x="12.7" y="45.5">C00011</text></g>
<g id="C05125" transform="translate(1806.5,2487.5)"><rect class="c" width="282" height="135"/><g font-size="12"><path class="b" d="M17.8,94.1 L40.8,83.2 L40.8,64.3 L60,55.7 L77.1,64.3 L77.1,83.2 L58.6,94.7 L40.8,83.2 M77.1,83.2 L99.4,94.7 M77.1,64.3 L93.1,55.7 L110.3,64.3 L118.6,45.9 L139,50.5 L141,68.9 L121.8,77.5 L110.3,64.3 M121.8,77.5 L126.9,99.3 M141,68.9 L160,78.6 L179.2,68.9 L192.6,76.3 L207.9,66 L226.4,74.6 L242.3,66 L264.7,73.4 M206.4,66 L206.4,47 M209.4,66 L209.4,47 M240.8,66 L240.8,44.7 M243.8,66 L243.8,44.7 M207.9,66 L218.8,84.9 M242.3,66 L253.2,84.9 M118.6,45.9 L110.9,27.5 L85.4,27.5 M110.9,27.5 L125,12.6"/><text class="a" x="17.8" y="94.1">H₃C</text><text class="a" x="40.8" y="64.3">N</text><text class="a" x="58.6" y="94.7">N</text><text class="a" x="99.4" y="94.7">NH₂</text><text class="a" x="110.3" y="64.3">N</text><text class="a" x="139" y="50.5">S</text><text class="a" x="126.9" y="99.3">CH₃</text><text class="a" x="192.6" y="76.3">O</text><text class="a" x="207.9" y="66">P</text><text class="a" x="207.9" y="47">O</text><text class="a" x="226.4" y="74.6">O</text><text class="a" x="218.8" y="84.9">OH</text><text class="a" x="242.3" y="66">P</text><text class="a" x="242.3" y="44.7">O</text><text class="a" x="264.7" y="73.4">OH</text><text class="a" x="253.2" y="84.9">OH</text><text class="a" x="85.4" y="27.5">H₃C</text><text class="a" x="125" y="12.6">OH</text></g><text class="l" x="8.3" y="124.5">C05125</text></g>
<g id="blank-2" transform="translate(932.5,2876.5)"><rect class="c" width="72" height="48"/></g>
<g id="C00011-h" transform="translate(2112.5,2527.5)"><rect class="c" width="72" height="56"/><use href="#m-co2" xlink:href="#m-co2"/><text class="l" x="12.7" y="45.5">C00011</text></g>
<g id="C06010" transform="translate(2208.5,2504.5)"><rect class="c" width="126" height="101"/><g font-size="13.5"><path class="b" d="M21.8,44.8 L47.8,36.4 L65.8,46 L83,36.4 L105.2,44.8 M46.3,36.4 L46.3,14.6 M49.3,36.4 L49.3,14.6 M81.5,36.4 L81.5,14.6 M84.5,36.4 L84.5,14.6"/><text class="a" x="21.8" y="44.8">H₃C</text><text class="a" x="47.8" y="14.6">O</text><text class="a" x="83" y="14.6">O</text><text class="a" x="105.2" y="44.8">OH</text><text class="a" x="50.5" y="63.9">H₃C</text><text class="a" x="80" y="61.2">OH</text><path class="w" d="M65.8,46 L58,53 L62,56 Z"/><path class="h" d="M65.8,46 L74,55"/></g><text class="l" x="8.4" y="90">C06010</text></g>
<g id="C00084" transform="translate(2408.5,2515.5)"><rect class="c" width="72" height="80"/><g font-size="12"><path class="b" d="M39,14.2 L39,35.2 M42,14.2 L42,35.2 M17.6,42.9 L40.5,35.2 L57.7,42.9"/><text class="a" x="40.5" y="14.2">O</text><text class="a" x="17.6" y="42.9">H₃C</text><text class="a" x="57.7" y="42.9">H</text></g><text class="l" x="8.4" y="67.8">C00084</text></g>
<g id="C00011-i" transform="translate(2504.5,2527.5)"><rect class="c" width="72" height="56"/><use href="#m-co2" xlink:href="#m-co2"/><text class="l" x="12.7" y="45.5">C00011</text></g>
<g id="C00011-j" transform="translate(2703.5,2527.5)"><rect class="c" width="72" height="56"/><use href="#m-co2" xlink:href="#m-co2"/><text class="l" x="12.7" y="45.5">C00011</text></g>
<g id="C00024" transform="translate(2799.5,2513.5)"><rect class="c" width="120" height="83"/><g font-size="14"><path class="b" d="M22.1,46 L48.6,37 L67,46 L94.5,46 M47.1,37 L47.1,15.6 M50.1,37 L50.1,15.6"/><text class="a" x="22.1" y="46">H₃C</text><text class="a" x="48.6" y="15.6">O</text><text class="a" x="67" y="46">S</text><text class="a" x="94.5" y="46">CoA</text></g><text class="l" x="8.6" y="72.8">C00024</text></g>
<g id="C00080-d" transform="translate(2942.5,2531.5)"><rect class="c" width="72" height="48"/><use href="#m-hp" xlink:href="#m-hp"/><text class="l" x="14.6" y="37.4">C00080</text></g>
<g id="C00004" transform="translate(3039.5,2470.5)"><rect class="c" width="304" height="171"/><g transform="translate(1.7,4.3) scale(.775,.76)" font-size="17.5"><use href="#m-nadh" xlink:href="#m-nadh"/><path class="h" d="M343.6,147.4 L351,157"/><text class="a" x="360" y="170">OH</text></g><text class="l" x="8.1" y="159.5">C00004</text></g>
<g id="C00003-b" transform="translate(2551.5,2813.5)"><rect class="c" width="304" height="174"/><g font-size="13.5"><path class="b" d="M27,33.9 L44.3,43.7 L44.3,62.9 L25.9,72.8 L9.2,62.9 L9.2,43.7 Z M12,46 L12,60 M41.5,46 L41.5,60 M27,37 L13,45 M44.3,43.7 L58.9,33.9 L84,43.7 M57.4,33.9 L57.4,15.1 M60.4,33.9 L60.4,15.1 M60.5,90.6 L44.3,100.9 L49.2,119.6 L70.3,119.6 L76.8,100.9 Z M96,95.5 L210.7,95.5 M131.5,95.5 L131.5,77.2 M134.5,95.5 L134.5,77.2 M169.8,95.5 L169.8,77.2 M172.8,95.5 L172.8,77.2 M133,95.5 L138.3,114.7 M171.3,95.5 L176.7,114.7 M245.8,92.5 L229.6,103.4 L235,121.7 L257.7,121.7 L261,103.4 Z M278,76 L260,71.8 L260,51.7 L279,43.7 L290,60.5 Z M260,71.8 L243.6,78.4 L228.5,68.6 L226.8,49.4 L244.5,40.5 L260,51.7 M244.5,40.5 L254.7,21.4"/><path class="w" d="M210.7,92 L229.6,102 L228,106 L210.7,98 Z M261,103.4 L273,78 L279,80 Z M49.2,119.6 L40,128 L44,131 Z M70.3,119.6 L78,130 L82,127 Z"/><path class="h" d="M25.9,75 L44.3,100.9 M76.8,100.9 L96,95.5 M235,121.7 L227,132 M257.7,121.7 L265,132"/><text class="a" x="58.9" y="15.1">O</text><text class="a" x="84" y="43.7">NH₂</text><text class="a" x="25.9" y="72.8">N⁺</text><text class="a" x="60.5" y="90.6">O</text><text class="a" x="33.9" y="135.7">HO</text><text class="a" x="86.5" y="135.7">OH</text><text class="a" x="113.5" y="95.5">O</text><text class="a" x="133" y="95.5">P</text><text class="a" x="152.4" y="95.5">O</text><text class="a" x="171.3" y="95.5">P</text><text class="a" x="190.2" y="95.5">O</text><text class="a" x="133" y="77.2">O</text><text class="a" x="171.3" y="77.2">O</text><text class="a" x="138.3" y="114.7">OH</text><text class="a" x="176.7" y="114.7">OH</text><text class="a" x="245.8" y="92.5">O</text><text class="a" x="218.8" y="138.2">HO</text><text class="a" x="271.8" y="136.9">OH</text><text class="a" x="278" y="76">N</text><text class="a" x="279" y="43.7">N</text><text class="a" x="226.8" y="49.4">N</text><text class="a" x="243.6" y="78.4">N</text><text class="a" x="254.7" y="21.4">NH₂</text></g><text class="l" x="8.1" y="162.5">C00003</text></g>
<g id="C00010" transform="translate(2880.5,2784.5)"><rect class="c" width="263" height="232"/><g font-size="14"><path class="b" d="M93.5,33.9 L101,20 M93.5,33.9 L76.7,42 L78.3,60.7 L92.4,69.6 L109.1,60.7 L109.1,42.8 L93.5,33.9 M109.1,42.8 L124.2,33 L138.8,42.8 L138.8,59.8 L109.1,60.7 M117.2,81.7 L132.3,92 L128,109.8 L109.1,109.8 L102.6,92 Z M102.6,92 L87.5,86.1 L63.2,98.6 L14.6,98.6 M36.3,78.6 L32.4,98.6 L32.4,174.5 L51.3,174.5 L68.6,166.5 L83.2,174.5 L99.4,166.5 L114.5,174.5 L129.1,166.5 L144.2,174.5 L160.4,166.5 L176.6,174.5 L191.2,166.5 L206.3,174.5 L222.6,166.5 L244.2,174.5 M32.4,174.5 L14.6,174.5 M32.4,174.5 L37.8,196.8 M57.8,121 L99.4,121 L109.1,109.8 M80.5,104 L80.5,138.8 M83.2,174.5 L83.2,158 M83.2,174.5 L83.2,191 M99.4,166.5 L103.7,151 M113,174.5 L113,191.4 M116,174.5 L116,191.4 M175.1,174.5 L175.1,192.4 M178.1,174.5 L178.1,192.4 M129.1,166.5 L129.1,153.5 M191.2,166.5 L191.2,153.5 M128,109.8 L141.5,121"/><path class="w" d="M132.3,92 L136,60 L141,62 Z M87.5,84 L102.6,91 L101,94 Z"/><text class="a" x="101" y="17.4">NH₂</text><text class="a" x="76.7" y="42">N</text><text class="a" x="92.4" y="69.6">N</text><text class="a" x="124.2" y="33">N</text><text class="a" x="138.8" y="59.8">N</text><text class="a" x="117.2" y="81.7">O</text><text class="a" x="63.2" y="98.6">O</text><text class="a" x="32.4" y="98.6">P</text><text class="a" x="14.6" y="98.6">O</text><text class="a" x="37.8" y="78.6">OH</text><text class="a" x="32.4" y="136.6">O</text><text class="a" x="32.4" y="174.5">P</text><text class="a" x="14.6" y="174.5">O</text><text class="a" x="51.3" y="174.5">O</text><text class="a" x="37.8" y="196.8">OH</text><text class="a" x="99.4" y="121">O</text><text class="a" x="80.5" y="121">P</text><text class="a" x="57.8" y="121">HO</text><text class="a" x="85.9" y="104">OH</text><text class="a" x="80.5" y="138.8">O</text><text class="a" x="141.5" y="121">OH</text><text class="a" x="72.9" y="158">H₃C</text><text class="a" x="72.9" y="191">H₃C</text><text class="a" x="103.7" y="151">OH</text><text class="a" x="114.5" y="191.4">O</text><text class="a" x="129.1" y="153.5">H</text><text class="a" x="129.1" y="166.5">N</text><text class="a" x="176.6" y="192.4">O</text><text class="a" x="191.2" y="153.5">H</text><text class="a" x="191.2" y="166.5">N</text><text class="a" x="244.2" y="174.5">SH</text></g><text class="l" x="7.5" y="220.5">C00010</text></g>
<g id="C00001-d" transform="translate(837.5,2868.5)"><rect class="c" width="71" height="64"/><use href="#m-h2o" xlink:href="#m-h2o"/><text class="l" x="10.2" y="53">C00001</text></g>
<g id="C15972" transform="translate(1209.5,2851.5)"><rect class="c" width="181" height="98"/><g font-size="13"><path class="b" d="M16.2,15.7 L35.8,15.7 L40.7,36.7 L25.3,46.5 L9.8,36.7 L16.2,15.7 M40.7,36.7 L59,46.5 L77.9,36.7 L95.4,46.5 L113,36.7 L129.1,46.5 L144.6,34.4 L165.6,34.4 M127.6,46.5 L127.6,64.8 M130.6,46.5 L130.6,64.8 M144.6,34.4 L144.6,21.9"/><text class="a" x="16.2" y="15.7">S</text><text class="a" x="35.8" y="15.7">S</text><text class="a" x="129.1" y="64.8">O</text><text class="a" x="144.6" y="21.9">H</text><text class="a" x="144.6" y="34.4">N</text><text class="a" x="165.6" y="34.4">R</text></g><text class="l" x="7.8" y="87.9">C15972</text></g>
<g id="C00014" transform="translate(1415.5,2861.5)"><rect class="c" width="71" height="78"/><g font-size="13"><path class="b" d="M33.8,14.9 L33.8,33.8 M17.2,43 L33.8,33.8 L51,43"/><text class="a" x="33.8" y="14.9">H</text><text class="a" x="33.8" y="33.8">N</text><text class="a" x="17.2" y="43">H</text><text class="a" x="51" y="43">H</text></g><text class="l" x="12.8" y="66">C00014</text></g>
<g id="C00283" transform="translate(1510.5,2868.5)"><rect class="c" width="72" height="65"/><g font-size="13"><path class="b" d="M17.8,16 L36.3,32.1 L51.6,16"/><text class="a" x="17.8" y="16">H</text><text class="a" x="36.3" y="32.1">S</text><text class="a" x="51.6" y="16">H</text></g><text class="l" x="14" y="55">C00283</text></g>
<g id="C00068" transform="translate(1607.5,2849.5)"><rect class="c" width="282" height="104"/><g font-size="12"><path class="b" d="M17.2,62 L40.8,51 L40.8,32.1 L58.6,22.4 L75.9,32.1 L75.9,51 L58,62.5 L40.8,51 M75.9,51 L98.2,64.3 M75.9,32.1 L91.8,22.4 L111,32.1 L119.2,14.9 L137.7,20.6 L139.6,37.8 L120.5,46.4 L111,32.1 M120.5,46.4 L126.9,66.6 M139.6,37.8 L158.8,46.4 L176,36.7 L192,45.3 L207.9,35 L225.7,41.8 L241.7,35 L264,42 M206.4,35 L206.4,13.7 M209.4,35 L209.4,13.7 M240.2,35 L240.2,12 M243.2,35 L243.2,12 M207.9,35 L218,53.3 M241.7,35 L252.5,51"/><text class="a" x="17.2" y="62">H₃C</text><text class="a" x="40.8" y="32.1">N</text><text class="a" x="58" y="62.5">N</text><text class="a" x="98.2" y="64.3">NH₂</text><text class="a" x="111" y="32.1">N</text><text class="a" x="137.7" y="20.6">S</text><text class="a" x="126.9" y="66.6">CH₃</text><text class="a" x="192" y="45.3">O</text><text class="a" x="207.9" y="35">P</text><text class="a" x="207.9" y="13.7">O</text><text class="a" x="225.7" y="41.8">O</text><text class="a" x="218" y="53.3">OH</text><text class="a" x="241.7" y="35">P</text><text class="a" x="241.7" y="12">O</text><text class="a" x="264" y="42">OH</text><text class="a" x="252.5" y="51">OH</text></g><text class="l" x="7.6" y="92.4">C00068</text></g>
<g id="C00022" transform="translate(2167.5,2853.5)"><rect class="c" width="87" height="95"/><g font-size="12"><path class="b" d="M38.1,12.6 L38.1,33.8 M41.1,12.6 L41.1,33.8 M16.6,42.4 L39.6,33.8 L61,45.3 L61,61.4 M60,43.5 L72.5,32 M62,47 L74.5,35.5"/><text class="a" x="39.6" y="12.6">O</text><text class="a" x="16.6" y="42.4">H₃C</text><text class="a" x="73.4" y="33.8">O</text><text class="a" x="61" y="61.4">OH</text></g><text class="l" x="7.7" y="84.4">C00022</text></g>
<g id="C00097" transform="translate(1429.5,3161.5)"><rect class="c" width="117" height="100"/><g font-size="13"><path class="b" d="M40.5,14.9 L40.5,36.7 M43.5,14.9 L43.5,36.7 M19.2,43.6 L42,36.7 L59.3,47.7 L76.6,38 L97.6,45.4"/><path class="h" d="M59.3,47.7 L62,60"/><text class="a" x="42" y="14.9">O</text><text class="a" x="19.2" y="43.6">HO</text><text class="a" x="97.6" y="45.4">SH</text><text class="a" x="67.6" y="66.6">NH₂</text></g><text class="l" x="9" y="85">C00097</text></g>
<g id="C00001-e" transform="translate(1570.5,3181.5)"><rect class="c" width="72" height="63"/><use href="#m-h2o" xlink:href="#m-h2o"/><text class="l" x="10.2" y="53">C00001</text></g>
</svg>
